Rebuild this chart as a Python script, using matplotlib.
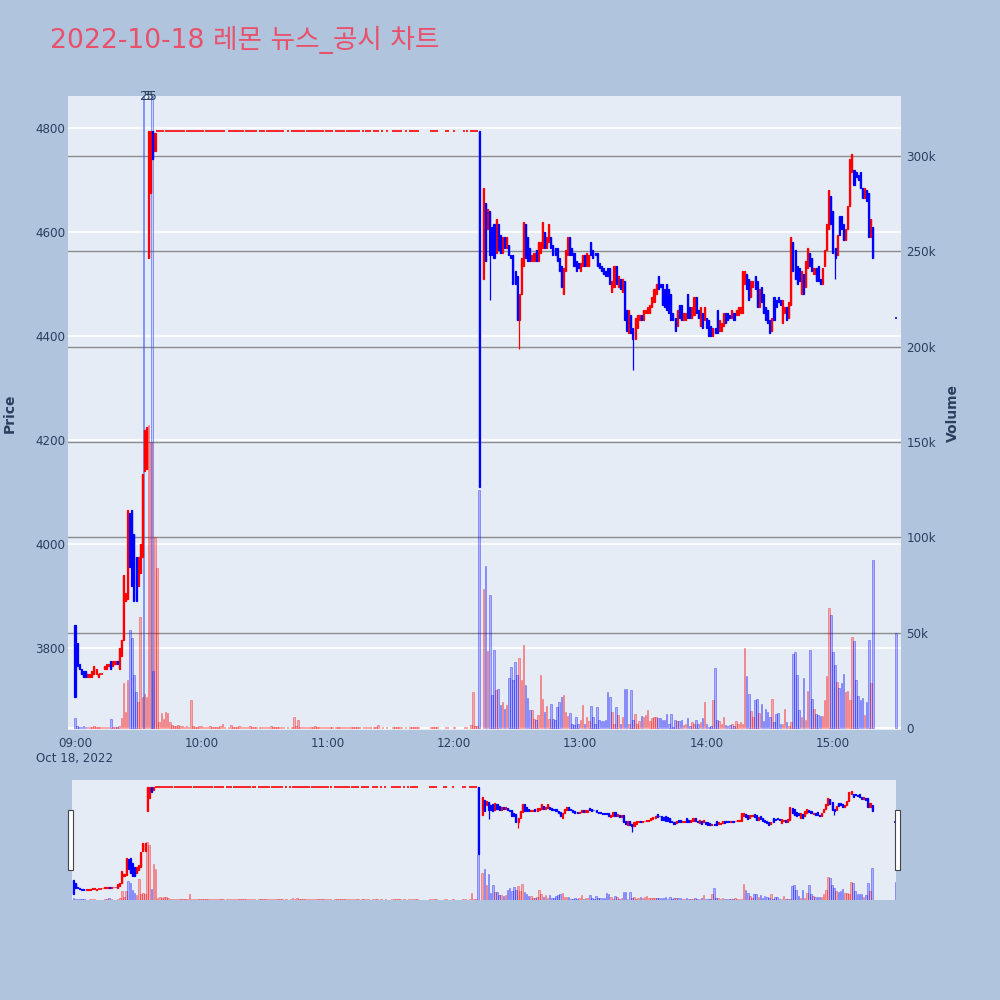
import numpy as np
import pandas as pd
import matplotlib
matplotlib.use("Agg")
import matplotlib.pyplot as plt
import matplotlib.dates as mdates
from matplotlib.patches import Rectangle

plt.rcParams['font.family'] = ['DejaVu Sans', 'Noto Sans CJK KR']

DAY = "2022-10-18"
TITLE = "2022-10-18 레몬 뉴스_공시 차트"

# opening run, one candle a minute from 09:00
am_start = "09:00"
am_open = [3845, 3810, 3770, 3760, 3755, 3755, 3745, 3745, 3745, 3750,
           3750, 3745, 3750, 3750, 3760, 3760, 3765, 3775, 3765, 3770,
           3775, 3760, 3785, 3815, 3890, 3895, 4060, 4065, 4020, 3975,
           3920, 3945, 3975, 4140, 4145, 4550, 4675, 4795, 4755, 4795]
am_close = [3705, 3765, 3760, 3750, 3745, 3745, 3750, 3750, 3755, 3765,
            3760, 3750, 3750, 3750, 3765, 3770, 3770, 3760, 3775, 3775,
            3770, 3800, 3815, 3940, 3905, 4065, 3955, 3920, 3890, 3890,
            3975, 4000, 4135, 4220, 4225, 4795, 4795, 4740, 4790, 4795]
am_volume_k = [5.1, 1.0, 0.5, 0.5, 0.8, 0.6, 0.3, 0.3, 0.5, 0.9,
               0.5, 0.3, 0.3, 0.3, 0.3, 0.6, 0.5, 4.5, 0.6, 0.3,
               0.3, 1.2, 5.0, 23.4, 8.2, 25.2, 51.4, 47.0, 27.8, 19.0,
               13.8, 58.4, 16.4, 18.0, 16.0, 159.0, 150.0, 30.0, 100.0, 84.0]

# upper price held; minutes that printed a trade (first, last)
limit_price = 4795
limit_runs = [("09:40", "10:11"), ("10:13", "10:26"), ("10:28", "10:39"), ("10:41", "10:41"),
              ("10:43", "11:02"), ("11:04", "11:15"), ("11:17", "11:20"), ("11:22", "11:24"),
              ("11:26", "11:26"), ("11:28", "11:28"), ("11:31", "11:35"), ("11:37", "11:37"),
              ("11:39", "11:43"), ("11:49", "11:52"), ("11:56", "11:57"), ("12:00", "12:00"),
              ("12:05", "12:06"), ("12:08", "12:11")]
limit_volume_k = [3.3, 7.7, 4.5, 8.6, 8.0, 3.3, 1.5, 1.2, 0.9, 1.5, 1.0, 0.8, 0.6, 0.9, 0.7, 14.7,
                  1.2, 0.6, 0.5, 0.8, 0.9, 0.6, 0.5, 0.7, 1.0, 0.6, 0.5, 0.4, 0.6, 0.8, 2.1, 0.5,
                  0.5, 1.4, 0.6, 0.4, 0.5, 0.8, 0.5, 0.6, 0.4, 0.5, 0.9, 0.4, 0.5, 0.6,
                  0.5, 0.7, 0.4, 0.5, 0.6, 1.0, 0.4, 0.5, 0.6, 0.4, 0.5, 0.5,
                  0.6,
                  0.5, 5.8, 0.8, 4.0, 0.6, 0.5, 0.4, 0.6, 0.5, 0.4, 0.5, 1.2, 0.6, 0.4, 0.5, 0.4,
                  0.6, 0.5, 0.4, 0.5,
                  0.5, 0.4, 0.6, 0.5, 0.4, 0.5, 0.6, 0.5, 0.4, 0.5, 0.6, 0.4,
                  0.5, 0.4, 0.6, 0.5,
                  0.4, 0.5, 1.5,
                  0.5,
                  0.4,
                  0.5, 0.4, 0.6, 0.5, 0.4,
                  0.4,
                  0.5, 0.4, 0.5, 0.6, 0.4,
                  0.4, 0.5, 0.4, 0.5,
                  0.4, 0.5,
                  0.4,
                  0.5, 0.4,
                  1.7, 18.9, 0.9, 0.9]

# release candle
release_time = "12:12"
release_ohlc = (4795, 4795, 4110, 4110)
release_volume_k = 125.0

# afternoon, one candle a minute from 12:14
pm_start = "12:14"
pm_open = [4510, 4655, 4605, 4640, 4610, 4615, 4560, 4615, 4595, 4560, 4590, 4570, 4575, 4555,
           4555, 4525, 4515, 4430, 4480, 4535, 4615, 4590, 4570, 4545,
           4545, 4565, 4545, 4560, 4570, 4600, 4570, 4580, 4590, 4575, 4570, 4570, 4550, 4535,
           4480, 4525, 4555, 4590, 4570, 4560, 4545, 4540,
           4525, 4535, 4555, 4535, 4535, 4580, 4565, 4560, 4560, 4540,
           4535, 4530, 4525, 4530, 4530, 4485, 4495, 4535, 4495, 4510, 4485, 4505, 4450, 4405,
           4440, 4415, 4395, 4415, 4430, 4440, 4430, 4445, 4445, 4445, 4455, 4465, 4480, 4515,
           4500, 4500, 4490, 4500, 4490, 4480, 4445, 4435, 4420, 4460, 4460, 4430, 4430, 4480,
           4455, 4435, 4440, 4475, 4450, 4420, 4445, 4430, 4435, 4430, 4420, 4400, 4415, 4450,
           4410, 4410, 4420, 4445, 4445, 4440, 4435, 4445, 4440, 4440, 4445,
           4445, 4500, 4520, 4510, 4475, 4495, 4515, 4505, 4455, 4495, 4480, 4455, 4450, 4430,
           4410, 4475, 4470, 4475, 4470, 4425, 4445, 4455, 4435, 4460, 4580, 4565, 4535, 4530,
           4480, 4520, 4495, 4530, 4560, 4550, 4520, 4530, 4535, 4510, 4500, 4535, 4565, 4605,
           4670, 4640, 4570, 4555, 4630, 4630, 4615, 4585, 4605, 4650, 4715, 4720, 4715, 4710,
           4715, 4685, 4665, 4680, 4675, 4590, 4610]
pm_close = [4685, 4545, 4645, 4555, 4555, 4550, 4625, 4565, 4560, 4590, 4570, 4590, 4555, 4550,
            4500, 4500, 4430, 4480, 4550, 4620, 4550, 4545, 4545, 4555,
            4560, 4545, 4580, 4580, 4620, 4570, 4590, 4615, 4570, 4555, 4555, 4545, 4525, 4495,
            4530, 4565, 4590, 4555, 4555, 4535, 4525, 4530,
            4540, 4555, 4535, 4560, 4555, 4555, 4550, 4555, 4535, 4530,
            4525, 4520, 4515, 4515, 4500, 4505, 4535, 4500, 4515, 4490, 4510, 4430, 4410, 4450,
            4405, 4395, 4435, 4440, 4440, 4430, 4450, 4450, 4455, 4460, 4475, 4490, 4500, 4490,
            4495, 4460, 4455, 4450, 4445, 4430, 4430, 4410, 4450, 4435, 4430, 4445, 4445, 4435,
            4435, 4455, 4475, 4445, 4435, 4455, 4415, 4455, 4415, 4400, 4400, 4415, 4405, 4405,
            4430, 4425, 4445, 4425, 4430, 4435, 4450, 4430, 4450, 4455, 4455,
            4525, 4525, 4490, 4470, 4505, 4505, 4490, 4455, 4490, 4465, 4445, 4430, 4425, 4405,
            4435, 4430, 4455, 4465, 4460, 4470, 4455, 4430, 4465, 4590, 4525, 4510, 4500, 4505,
            4525, 4480, 4545, 4570, 4535, 4525, 4530, 4505, 4505, 4500, 4530, 4565, 4615, 4680,
            4615, 4560, 4550, 4595, 4595, 4605, 4585, 4605, 4650, 4740, 4750, 4690, 4705, 4700,
            4685, 4665, 4685, 4660, 4590, 4625, 4550]
pm_low_wick = {"12:17": 4470, "12:31": 4375, "13:25": 4335, "15:01": 4510}
pm_high_wick = {}
pm_volume_k = [72.9, 84.8, 40.6, 70.0, 17.1, 41.1, 20.1, 20.5, 11.9, 13.5,
               10.1, 11.9, 26.2, 31.8, 25.0, 34.6, 28.0, 36.7, 25.0, 43.7,
               22.4, 15.7, 9.6, 9.3, 4.9, 4.4, 7.0, 28.0, 15.4, 8.2,
               11.7, 4.9, 12.8, 4.9, 4.0, 11.0, 13.6, 16.3, 17.1, 8.2,
               6.5, 7.9, 2.3, 1.7, 5.8, 2.3, 4.4, 12.2, 2.3, 5.8,
               3.7, 11.5, 5.8, 2.3, 11.0, 4.0, 3.7, 3.7, 4.4, 18.9,
               16.1, 8.4, 2.3, 10.8, 6.6, 2.3, 5.8, 20.5, 20.5, 2.3,
               19.8, 4.4, 7.5, 2.3, 3.7, 6.5, 5.8, 6.6, 9.3, 3.7,
               5.4, 5.8, 5.8, 5.4, 5.4, 4.4, 4.4, 7.2, 2.3, 7.2,
               0.5, 4.0, 3.7, 3.7, 4.0, 1.4, 1.9, 5.0, 0.9, 3.0,
               1.9, 4.4, 1.9, 3.1, 5.4, 13.5, 1.9, 0.5, 0.9, 14.9,
               31.5, 4.4, 3.7, 1.9, 5.8, 1.4, 0.9, 1.4, 1.9, 0.9,
               3.7, 2.3, 3.0, 1.9, 42.0, 27.1, 18.0, 8.9, 5.8, 14.5,
               15.4, 8.0, 12.8, 3.7, 10.1, 8.4, 5.8, 15.4, 3.1, 7.2,
               8.0, 2.3, 2.3, 10.1, 3.1, 0.9, 3.1, 39.0, 39.9, 28.0,
               9.6, 5.8, 26.2, 4.4, 19.2, 40.8, 15.4, 10.1, 7.2, 6.6,
               6.1, 6.5, 14.5, 27.3, 63.1, 59.5, 39.9, 32.9, 24.1, 21.2,
               23.6, 28.5, 18.9, 19.2, 14.9, 47.6, 45.8, 25.0, 16.6, 14.7,
               15.7, 6.6, 13.5, 46.0, 23.8, 88.0]

# closing auction print
close_time = "15:30"
close_price = 4435
close_volume_k = 49.8

# news / disclosure markers
news_times = ["09:32:30", "09:36:35"]
news_labels = ["25", "35"]

assert len(am_open) == len(am_close) == len(am_volume_k)
assert len(pm_open) == len(pm_close) == len(pm_volume_k)


def ts(hhmm):
    return pd.Timestamp(f"{DAY} {hhmm}")


rows = []
t0 = ts(am_start)
for i, (o, c, v) in enumerate(zip(am_open, am_close, am_volume_k)):
    rows.append((t0 + pd.Timedelta(minutes=i), o, max(o, c), min(o, c), c, v))
k = 0
for a, b in limit_runs:
    for t in pd.date_range(ts(a), ts(b), freq="min"):
        rows.append((t, limit_price, limit_price, limit_price, limit_price, limit_volume_k[k]))
        k += 1
o, h, l, c = release_ohlc
rows.append((ts(release_time), o, h, l, c, release_volume_k))
t0 = ts(pm_start)
for i, (o, c, v) in enumerate(zip(pm_open, pm_close, pm_volume_k)):
    t = t0 + pd.Timedelta(minutes=i)
    key = t.strftime("%H:%M")
    hi = max(o, c, pm_high_wick.get(key, 0))
    lo = min(o, c, pm_low_wick.get(key, 99999))
    rows.append((t, o, hi, lo, c, v))
rows.append((ts(close_time), close_price, close_price, close_price, close_price, close_volume_k))

df = pd.DataFrame(rows, columns=["t", "open", "high", "low", "close", "vol_k"]).sort_values("t")
df["x"] = mdates.date2num(df["t"])
df["volume"] = df["vol_k"] * 1000

# direction like plotly: flat candles follow the previous close
up = []
prev_c, prev_up = None, True
for o, c in zip(df["open"], df["close"]):
    if c > o:
        d = True
    elif c < o:
        d = False
    elif prev_c is not None and c != prev_c:
        d = c > prev_c
    else:
        d = prev_up
    up.append(d)
    prev_c, prev_up = c, d
df["up"] = up

MIN = 1 / 1440
P_LIM = (3642.3, 4861.5)
V_LIM = (-1050, 331500)
BG = "#E5ECF6"
TXT = "#2a3f5f"
RED_V = (1, 0, 0, 0.28)
RED_E = (1, 0, 0, 0.45)
BLUE_V = (0, 0, 1, 0.25)
BLUE_E = (0, 0, 1, 0.45)


def draw_volume(ax):
    for flag, fc, ec in ((True, RED_V, RED_E), (False, BLUE_V, BLUE_E)):
        d = df[df["up"] == flag]
        ax.bar(d["x"], d["volume"], width=0.75 * MIN, color=fc, edgecolor=ec, lw=0.5, zorder=2)


def draw_candles(ax, lw, body):
    for flag, col in ((True, "red"), (False, "blue")):
        d = df[df["up"] == flag]
        moving = d[d["open"] != d["close"]]
        ax.vlines(d["x"], d["low"], d["high"], color=col, lw=lw, zorder=3)
        ax.bar(moving["x"], (moving["close"] - moving["open"]).abs(),
               bottom=np.minimum(moving["open"], moving["close"]),
               width=body * MIN, color=col, edgecolor=col, lw=lw, zorder=3)
        flat = d[d["open"] == d["close"]]
        ax.plot(flat["x"], flat["close"], ls="none", marker="_", ms=0.9, mew=1.4,
                color=col, alpha=0.85, zorder=3)


def price_to_vol(p):
    return V_LIM[0] + (p - P_LIM[0]) / (P_LIM[1] - P_LIM[0]) * (V_LIM[1] - V_LIM[0])


fig = plt.figure(figsize=(10, 10), dpi=100, facecolor="#B0C4DE")

# main panel: volume behind, price in front
ax_v = fig.add_axes([0.068, 0.270, 0.833, 0.634])
ax_v.set_facecolor(BG)
ax_p = ax_v.twinx()
ax_p.yaxis.tick_left()
ax_v.yaxis.tick_right()

price_ticks = [3800, 4000, 4200, 4400, 4600, 4800]
vol_ticks = [0, 50000, 100000, 150000, 200000, 250000, 300000]
for p in price_ticks:
    ax_v.axhline(price_to_vol(p), color="white", lw=1.2, zorder=0.5)
ax_v.axhline(0, color="white", lw=1.5, zorder=0.5)
for v in vol_ticks[1:]:
    ax_v.axhline(v, color="#8c8c8c", lw=1.0, zorder=0.6)

draw_volume(ax_v)
news_x = mdates.date2num(pd.to_datetime([f"{DAY} {t}" for t in news_times]))
ax_v.bar(news_x, [V_LIM[1] * 1.5] * len(news_x), width=[0.8 * MIN, 1.2 * MIN],
         color=(0, 0, 1, 0.12), edgecolor=(0.2, 0.35, 1, 0.55), lw=0.7, zorder=2)
for xv, lab, dx in zip(news_x, news_labels, (3, -2)):
    ax_v.annotate(lab, xy=(xv, 1.0), xycoords=("data", "axes fraction"), xytext=(dx, 0),
                  textcoords="offset pixels", ha="center", va="center", fontsize=8.5,
                  color=TXT, annotation_clip=False, zorder=6)
draw_candles(ax_p, 0.9, 0.5)

x_lo = mdates.date2num(ts("09:00") - pd.Timedelta(seconds=200))
x_hi = mdates.date2num(ts("15:32") + pd.Timedelta(seconds=20))
ax_v.set_xlim(x_lo, x_hi)
ax_v.set_ylim(*V_LIM)
ax_p.set_ylim(*P_LIM)

hours = pd.date_range(ts("09:00"), periods=7, freq="h")
hour_labels = [h.strftime("%H:%M") for h in hours]
hour_labels[0] += "\nOct 18, 2022"
ax_v.set_xticks(mdates.date2num(hours))
ax_v.set_xticklabels(hour_labels)
ax_v.set_yticks(vol_ticks)
ax_v.set_yticklabels(["0", "50k", "100k", "150k", "200k", "250k", "300k"])
ax_p.set_yticks(price_ticks)
ax_p.set_yticklabels([str(p) for p in price_ticks])
ax_v.tick_params(axis="x", length=0, labelsize=8.6, colors=TXT, pad=5)
ax_v.tick_params(axis="y", length=0, labelsize=8.6, colors=TXT, pad=4)
ax_p.tick_params(axis="y", length=0, labelsize=8.6, colors=TXT, pad=2)
for a in (ax_v, ax_p):
    for s in a.spines.values():
        s.set_visible(False)

fig.text(0.010, 0.587, "Price", rotation=90, ha="center", va="center",
         fontsize=10, fontweight="bold", color=TXT)
fig.text(0.953, 0.587, "Volume", rotation=90, ha="center", va="center",
         fontsize=10, fontweight="bold", color=TXT)
fig.text(0.050, 0.960, TITLE, ha="left", va="center", fontsize=19.2, color="#E9506A")

# range slider
sl_v = fig.add_axes([0.072, 0.100, 0.824, 0.120])
sl_v.set_facecolor(BG)
sl_p = sl_v.twinx()
draw_volume(sl_v)
draw_candles(sl_p, 0.9, 0.5)
sl_v.set_xlim(mdates.date2num(ts("09:00") - pd.Timedelta(seconds=40)),
              mdates.date2num(ts("15:30") + pd.Timedelta(seconds=20)))
sl_v.set_ylim(*V_LIM)
sl_p.set_ylim(*P_LIM)
for a in (sl_v, sl_p):
    a.set_xticks([])
    a.set_yticks([])
    for s in a.spines.values():
        s.set_visible(False)
for hx in (0.068, 0.895):
    fig.patches.append(Rectangle((hx, 0.130), 0.005, 0.060, transform=fig.transFigure,
                                 facecolor="white", edgecolor="#444444", lw=0.8))

fig.savefig("out.png", dpi=100, facecolor=fig.get_facecolor())
